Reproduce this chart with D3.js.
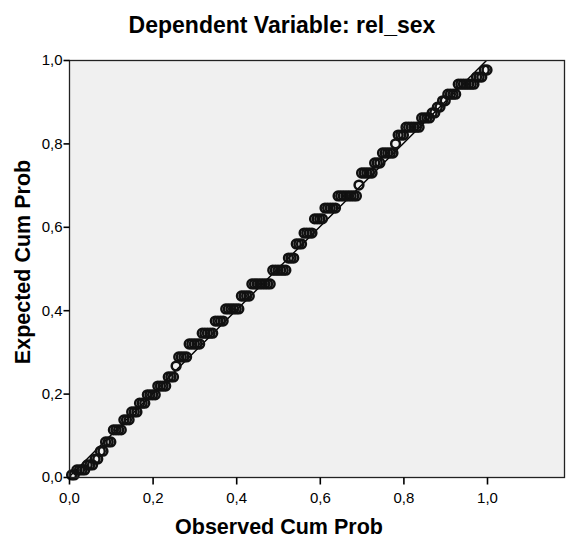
<!DOCTYPE html>
<html>
<head>
<meta charset="utf-8">
<script src="https://cdn.jsdelivr.net/npm/d3@7"></script>
<style>
  html, body { margin: 0; padding: 0; background: #ffffff; }
  svg { display: block; }
</style>
</head>
<body>
<script>
// Normal P-P plot of regression standardized residuals.
// Expected cumulative probability for each tied group of residuals,
// and how many cases share that value (in ascending order).
const expectedLevels = [
  0.005, 0.017, 0.029, 0.043, 0.062, 0.084, 0.113, 0.137, 0.156, 0.177,
  0.197, 0.218, 0.240, 0.266, 0.288, 0.319, 0.345, 0.374, 0.403, 0.434,
  0.463, 0.496, 0.525, 0.559, 0.585, 0.619, 0.645, 0.674, 0.700, 0.729,
  0.753, 0.777, 0.799, 0.820, 0.839, 0.861, 0.873, 0.887, 0.902, 0.918,
  0.942, 0.959, 0.976
];
const tieCounts = [
  2, 4, 3, 2, 2, 3, 4, 3, 3, 3,
  4, 4, 3, 1, 4, 5, 5, 4, 6, 4,
  8, 6, 3, 3, 4, 4, 5, 8, 1, 5,
  3, 5, 1, 3, 6, 4, 2, 2, 2, 4,
  7, 3, 2
];
const xTicks = [0, 0.2, 0.4, 0.6, 0.8, 1.0];
const yTicks = [0, 0.2, 0.4, 0.6, 0.8, 1.0];
const titleText = "Dependent Variable: rel_sex";
const xTitle = "Observed Cum Prob";
const yTitle = "Expected Cum Prob";

// Observed cumulative probability = rank / N over the sorted cases.
const N = d3.sum(tieCounts);
const points = [];
let rank = 0;
expectedLevels.forEach((e, k) => {
  for (let j = 0; j < tieCounts[k]; j++) {
    rank += 1;
    points.push({ observed: rank / N, expected: e });
  }
});

const W = 566, H = 540;
const plot = { left: 69, right: 565, top: 60, bottom: 477 };
const FONT = "'Liberation Sans', Arial, sans-serif";

const x = d3.scaleLinear().domain([0, 1]).range([plot.left, 487]);
const y = d3.scaleLinear().domain([0, 1]).range([plot.bottom, plot.top]);

const fmt = d => d3.format(".1f")(d).replace(".", ",");

const svg = d3.select("body").append("svg")
  .attr("width", W).attr("height", H)
  .style("font-family", FONT);

// Title
svg.append("text")
  .attr("x", 282).attr("y", 33)
  .attr("text-anchor", "middle")
  .style("font-size", "23px").style("font-weight", "bold")
  .text(titleText);

// Plot background
svg.append("rect")
  .attr("x", plot.left).attr("y", plot.top)
  .attr("width", plot.right - plot.left).attr("height", plot.bottom - plot.top)
  .attr("fill", "#f0f0f0");

const clipId = "plotClip";
svg.append("clipPath").attr("id", clipId)
  .append("rect")
  .attr("x", plot.left).attr("y", plot.top)
  .attr("width", plot.right - plot.left).attr("height", plot.bottom - plot.top);

// Reference diagonal
svg.append("line")
  .attr("x1", x(0)).attr("y1", y(0))
  .attr("x2", x(1)).attr("y2", y(1))
  .attr("stroke", "#000").attr("stroke-width", 1.4)
  .attr("clip-path", `url(#${clipId})`);

// Points
svg.append("g")
  .selectAll("circle")
  .data(points)
  .join("circle")
  .attr("cx", d => x(d.observed))
  .attr("cy", d => y(d.expected))
  .attr("r", 4.4)
  .attr("fill", "none")
  .attr("stroke", "#111")
  .attr("stroke-width", 2.5);

// Frame
svg.append("rect")
  .attr("x", plot.left + 0.5).attr("y", plot.top + 0.5)
  .attr("width", plot.right - plot.left - 1).attr("height", plot.bottom - plot.top)
  .attr("fill", "none").attr("stroke", "#222").attr("stroke-width", 1.3);

// Axes
const xAxis = d3.axisBottom(x).tickValues(xTicks).tickFormat(fmt).tickSize(7).tickSizeOuter(0);
const gx = svg.append("g").attr("transform", `translate(0,${plot.bottom + 0.5})`).call(xAxis);
gx.select(".domain").remove();
gx.selectAll("line").attr("stroke", "#000").attr("stroke-width", 1.6);
gx.selectAll("text").attr("fill", "#000").attr("y", 11).attr("dy", "0.95em")
  .style("font-size", "15px").style("font-family", FONT);

const yAxis = d3.axisLeft(y).tickValues(yTicks).tickFormat(fmt).tickSize(6).tickSizeOuter(0);
const gy = svg.append("g").attr("transform", `translate(${plot.left + 0.5},0)`).call(yAxis);
gy.select(".domain").remove();
gy.selectAll("line").attr("stroke", "#000").attr("stroke-width", 1.6);
gy.selectAll("text").attr("fill", "#000").attr("x", -7)
  .style("font-size", "15px").style("font-family", FONT);

// Axis titles
svg.append("text")
  .attr("x", 279).attr("y", 534)
  .attr("text-anchor", "middle")
  .style("font-size", "21.5px").style("font-weight", "bold")
  .text(xTitle);

svg.append("text")
  .attr("transform", `translate(30,262) rotate(-90)`)
  .attr("text-anchor", "middle")
  .style("font-size", "21.5px").style("font-weight", "bold")
  .text(yTitle);
</script>
</body>
</html>
